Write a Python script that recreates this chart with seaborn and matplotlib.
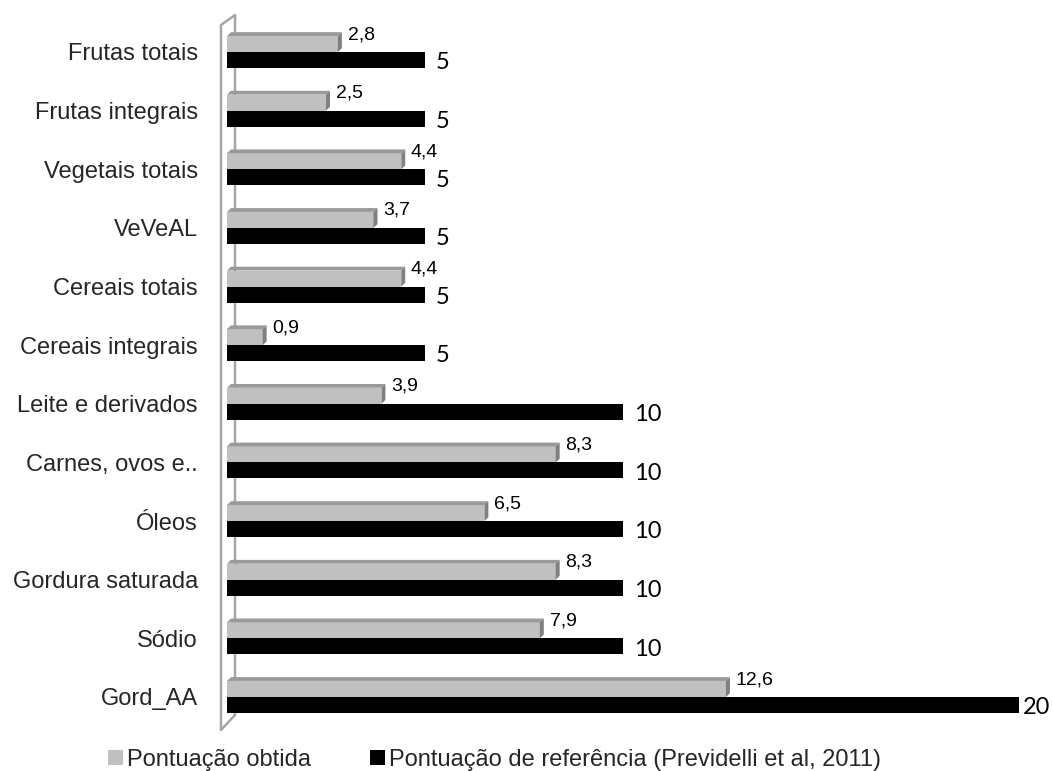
import pandas as pd
import matplotlib
matplotlib.use("Agg")
import matplotlib.pyplot as plt
from matplotlib.patches import Polygon, Patch
from matplotlib.lines import Line2D
import seaborn as sns

# Component labels, top to bottom
CATEGORIES = [
    "Frutas totais", "Frutas integrais", "Vegetais totais", "VeVeAL",
    "Cereais totais", "Cereais integrais", "Leite e derivados",
    "Carnes, ovos e..", "Óleos", "Gordura saturada", "Sódio", "Gord_AA",
]
OBTIDA = [2.8, 2.5, 4.4, 3.7, 4.4, 0.9, 3.9, 8.3, 6.5, 8.3, 7.9, 12.6]
REFERENCIA = [5, 5, 5, 5, 5, 5, 10, 10, 10, 10, 10, 20]
SERIES = ["Pontuação obtida", "Pontuação de referência (Previdelli et al, 2011)"]

GRAY = "#c0c0c0"
GRAY_TOP = "#9a9a9a"
GRAY_SIDE = "#808080"
BLACK = "#000000"
WALL = "#a6a6a6"


def fmt(v):
    return f"{v:g}".replace(".", ",")


sns.set_style("white")
plt.rcParams["font.family"] = ["Liberation Sans", "DejaVu Sans"]

df = pd.DataFrame({
    "categoria": CATEGORIES * 2,
    "valor": OBTIDA + REFERENCIA,
    "serie": [SERIES[0]] * len(CATEGORIES) + [SERIES[1]] * len(CATEGORIES),
})

fig = plt.figure(figsize=(10.53, 7.71), dpi=100)
ax = fig.add_axes([0.2156, 0.058, 0.7521, 0.9126])
ax.set_facecolor("none")

sns.barplot(data=df, y="categoria", x="valor", hue="serie", orient="h",
            palette=[GRAY, BLACK], width=0.546, dodge=True, legend=False,
            saturation=1, ax=ax)

ax.set_xlim(0, 20)
ax.set_ylim(len(CATEGORIES) - 0.5, -0.5)

# 3D look for the gray bars + value labels
n = len(CATEGORIES)
patches = list(ax.patches)
dx, dy = 0.1, 0.065
ref_max = max(REFERENCIA)
for k, p in enumerate(patches):
    p.set_edgecolor("none")
    x0, y0 = p.get_x(), p.get_y()
    w, h = p.get_width(), p.get_height()
    if k < n:
        top = Polygon([(x0, y0), (x0 + w, y0), (x0 + w + dx, y0 - dy), (x0 + dx, y0 - dy)],
                      closed=True, facecolor=GRAY_TOP, edgecolor="none", zorder=p.get_zorder())
        side = Polygon([(x0 + w, y0), (x0 + w + dx, y0 - dy), (x0 + w + dx, y0 + h - dy), (x0 + w, y0 + h)],
                       closed=True, facecolor=GRAY_SIDE, edgecolor="none", zorder=p.get_zorder())
        ax.add_patch(top)
        ax.add_patch(side)
        ax.annotate(fmt(OBTIDA[k]), (x0 + w, y0), xytext=(7, 1), textcoords="offset points",
                    ha="left", va="center", fontsize=14, color="black")
    else:
        v = REFERENCIA[k - n]
        # Excel squeezes the label of the longest bar against the plot edge
        off = 3 if v == ref_max else 8
        ax.annotate(fmt(v), (x0 + w, y0 + h / 2), xytext=(off, -2), textcoords="offset points",
                    ha="left", va="center", fontsize=17, color="black",
                    family=["Lato", "DejaVu Sans"])

for s in ax.spines.values():
    s.set_visible(False)
ax.set_xticks([])
ax.set_xlabel("")
ax.set_ylabel("")
ax.tick_params(axis="y", length=0, pad=21, labelsize=17)
for t in ax.get_yticklabels():
    t.set_va("center_baseline")

# side wall of the 3D chart (drawn behind the bars)
W = 1053.0
H = 771.0


def fp(x, y):
    return (x / W, 1 - y / H)


wall = [fp(235, 715), fp(235, 15), fp(221, 25), fp(221, 730), fp(235, 715)]
fig.add_artist(Line2D([q[0] for q in wall], [q[1] for q in wall],
                      transform=fig.transFigure, color=WALL, lw=1.8, zorder=-1))

handles = [Patch(facecolor=GRAY, edgecolor="none"), Patch(facecolor=BLACK, edgecolor="none")]
fig.legend(handles, SERIES, loc="center left", bbox_to_anchor=(0.1026, 0.0143), ncol=2,
           frameon=False, fontsize=17, handlelength=0.64, handleheight=0.64,
           handletextpad=0.17, columnspacing=2.5, borderaxespad=0, borderpad=0)

fig.savefig("out.png", dpi=100)
plt.close(fig)
